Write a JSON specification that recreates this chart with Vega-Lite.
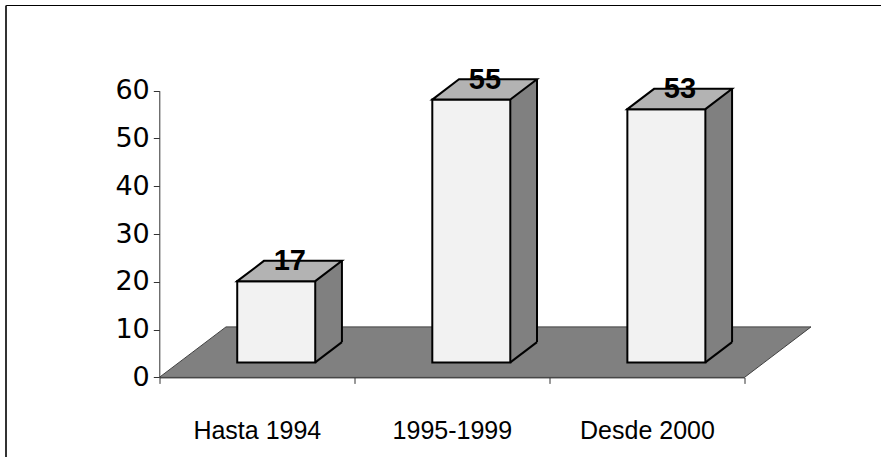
{
  "$schema": "https://vega.github.io/schema/vega-lite/v6.json",
  "width": 875.5,
  "height": 452,
  "autosize": {"type": "none"},
  "padding": {"left": 5.5, "top": 5, "right": 0, "bottom": 0},
  "background": "white",
  "view": {"stroke": "transparent", "strokeWidth": 0},
  "config": {
    "view": {"stroke": "transparent", "strokeWidth": 0},
    "font": "Liberation Sans",
    "axis": {"labelFont": "Liberation Sans", "labelColor": "#000", "grid": false, "title": null, "domainColor": "#333", "tickColor": "#333", "domainWidth": 1, "tickWidth": 1, "zindex": 1}
  },
  "data": {"values": [
    {"periodo": "Hasta 1994", "valor": 17},
    {"periodo": "1995-1999", "valor": 55},
    {"periodo": "Desde 2000", "valor": 53}
  ]},
  "layer": [
    {
      "mark": {"type": "point", "opacity": 0},
      "encoding": {
        "x": {"field": "periodo", "type": "nominal",
          "axis": {"orient": "top", "labels": false, "ticks": false, "domain": true, "domainColor": "#000", "domainWidth": 1}},
        "y": {"field": "valor", "type": "quantitative",
          "axis": {"orient": "left", "labels": false, "ticks": false, "domain": true, "domainColor": "#333", "domainWidth": 2}}
      }
    },
    {
      "encoding": {
        "x": {
          "field": "periodo", "type": "nominal",
          "scale": {"domain": ["Hasta 1994", "1995-1999", "Desde 2000"], "range": [153.8, 739], "paddingInner": 0, "paddingOuter": 0},
          "axis": {"orient": "bottom", "offset": -79.6, "tickBand": "extent", "tickSize": 6, "labelFontSize": 25, "labelPadding": 55, "labelBaseline": "alphabetic", "labelAngle": 0}
        },
        "y": {
          "field": "valor", "type": "quantitative",
          "scale": {"domain": [0, 60], "range": [372.4, 85.7], "nice": false},
          "axis": {"orient": "left", "offset": -153.8, "values": [0, 10, 20, 30, 40, 50, 60], "tickSize": 6, "labelFont": "DejaVu Sans", "labelFontSize": 27, "labelPadding": 4}
        }
      },
      "layer": [
        {
          "transform": [{"filter": "datum.periodo === '1995-1999'"}],
          "mark": {"type": "point", "shape": "M-292.6,0L-225.9,-50.5L359.1,-50.5L292.6,0Z", "size": 4, "filled": true, "fill": "#808080", "stroke": "#404040", "strokeWidth": 1, "opacity": 1},
          "encoding": {"y": {"datum": 0}}
        },
        {
          "mark": {"type": "bar", "width": 26.7, "xOffset": 71.75, "yOffset": -35.3, "y2Offset": -15, "fill": "#808080", "strokeWidth": 0}
        },
        {
          "mark": {"type": "bar", "width": 78, "xOffset": 19.4, "yOffset": -15, "y2Offset": -15, "fill": "#f2f2f2", "stroke": "#000", "strokeWidth": 2}
        },
        {
          "mark": {"type": "point", "shape": "M-39,0L-12.3,-20.3L65.7,-20.3L39,0Z", "size": 4, "filled": true, "fill": "#b3b3b3", "stroke": "#000", "strokeWidth": 2, "opacity": 1, "xOffset": 19.4, "yOffset": -15}
        },
        {
          "mark": {"type": "rule", "xOffset": 85.1, "yOffset": -35.3, "y2Offset": -35.3, "stroke": "#000", "strokeWidth": 2},
          "encoding": {"y2": {"datum": 0}}
        },
        {
          "mark": {"type": "point", "shape": "M0,0L26.7,-20.3", "size": 4, "filled": false, "stroke": "#000", "strokeWidth": 2, "opacity": 1, "xOffset": 58.4, "yOffset": -15},
          "encoding": {"y": {"datum": 0}}
        },
        {
          "mark": {"type": "text", "dx": 33, "dy": -26, "baseline": "alphabetic", "align": "center", "fontSize": 29, "fontWeight": "bold", "font": "Liberation Sans", "color": "#000"},
          "encoding": {"text": {"field": "valor", "type": "quantitative"}}
        }
      ]
    }
  ],
  "resolve": {"scale": {"x": "independent", "y": "independent"}, "axis": {"x": "independent", "y": "independent"}}
}
